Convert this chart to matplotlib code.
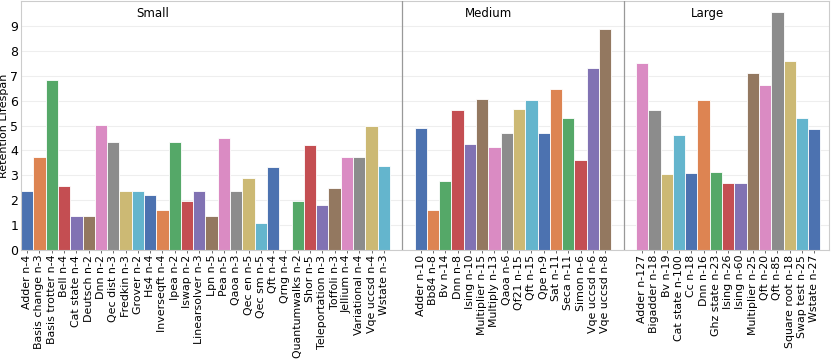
import numpy as np
import matplotlib
matplotlib.use("Agg")
import matplotlib.pyplot as plt

small_labels = ["Adder n-4", "Basis change n-3", "Basis trotter n-4", "Bell n-4", "Cat state n-4",
                "Deutsch n-2", "Dnn n-2", "Qec dist n-3", "Fredkin n-3", "Grover n-2", "Hs4 n-4",
                "Inverseqft n-4", "Ipea n-2", "Iswap n-2", "Linearsolver n-3", "Lpn n-5", "Pea n-5",
                "Qaoa n-3", "Qec en n-5", "Qec sm n-5", "Qft n-4", "Qrng n-4", "Quantumwalks n-2",
                "Shor n-5", "Teleportation n-3", "Toffoli n-3", "Jellium n-4", "Variational n-4",
                "Vqe uccsd n-4", "Wstate n-3"]
small_vals = [2.39, 3.72, 6.84, 2.57, 1.38, 1.38, 5.04, 4.34, 2.39, 2.39, 2.19,
              1.61, 4.35, 1.95, 2.39, 1.38, 4.48, 2.39, 2.89, 1.10, 3.33, 0.0, 1.95,
              4.21, 1.79, 2.49, 3.74, 3.74, 4.97, 3.37]

medium_labels = ["Adder n-10", "Bb84 n-8", "Bv n-14", "Dnn n-8", "Ising n-10", "Multiplier n-15",
                 "Multiply n-13", "Qaoa n-6", "Qf21 n-15", "Qft n-15", "Qpe n-9", "Sat n-11",
                 "Seca n-11", "Simon n-6", "Vqe uccsd n-6", "Vqe uccsd n-8"]
medium_vals = [4.92, 1.61, 2.77, 5.62, 4.25, 6.08, 4.14, 4.69, 5.67, 6.04, 4.69, 6.46,
               5.32, 3.60, 7.30, 8.88]

large_labels = ["Adder n-127", "Bigadder n-18", "Bv n-19", "Cat state n-100", "Cc n-18", "Dnn n-16",
                "Ghz state n-23", "Ising n-26", "Ising n-60", "Multiplier n-25", "Qft n-20",
                "Qft n-85", "Square root n-18", "Swap test n-25", "Wstate n-27"]
large_vals = [7.53, 5.62, 3.05, 4.60, 3.09, 6.02, 3.13, 2.70, 2.70, 7.12, 6.62,
              9.57, 7.61, 5.32, 4.87]

groups = ["Small", "Medium", "Large"]

palette = ["#4C72B0", "#DD8452", "#55A868", "#C44E52", "#8172B3",
           "#937860", "#DA8BC3", "#8C8C8C", "#CCB974", "#64B5CD"]

fig = plt.figure(figsize=(8.31, 3.61), dpi=100)
ax = fig.add_axes([0.0253, 0.3075, 0.9723, 0.6895])

gap = 2
xs, labels, vals = [], [], []
seps = []
pos = 0
for lbls, v in [(small_labels, small_vals), (medium_labels, medium_vals), (large_labels, large_vals)]:
    if pos > 0:
        seps.append(pos + gap / 2 - 0.5)
        pos += gap
    for l, val in zip(lbls, v):
        xs.append(pos)
        labels.append(l)
        vals.append(val)
        pos += 1

colors = [palette[i % len(palette)] for i in range(len(xs))]
ax.bar(xs, vals, width=1.0, color=colors, edgecolor="white", linewidth=0.6, zorder=2)

for s in seps:
    ax.axvline(s, color="#999999", lw=0.9, zorder=3)

# panel titles (positioned as in original)
for name, xt in zip(groups, [10.2, 37.55, 55.3]):
    ax.text(xt, 9.5, name, ha="center", va="center", fontsize=8.5)

ax.set_xticks(xs)
ax.set_xticklabels(labels, rotation=90, fontsize=7.9)
ax.set_xlim(-0.5, xs[-1] + 1.2)
ax.set_ylim(0, 10)
ax.set_yticks(range(10))
ax.tick_params(axis="y", labelsize=9, length=0, pad=2)
ax.tick_params(axis="x", length=2.5, width=0.6, color="#555555", pad=1)
ax.set_ylabel("Retention Lifespan", fontsize=8, labelpad=1)
ax.yaxis.grid(True, color="#eeeeee", lw=0.8, zorder=0)
ax.set_axisbelow(True)
for sp in ax.spines.values():
    sp.set_color("#cccccc")
    sp.set_linewidth(0.8)

fig.savefig("out.png", dpi=100)
